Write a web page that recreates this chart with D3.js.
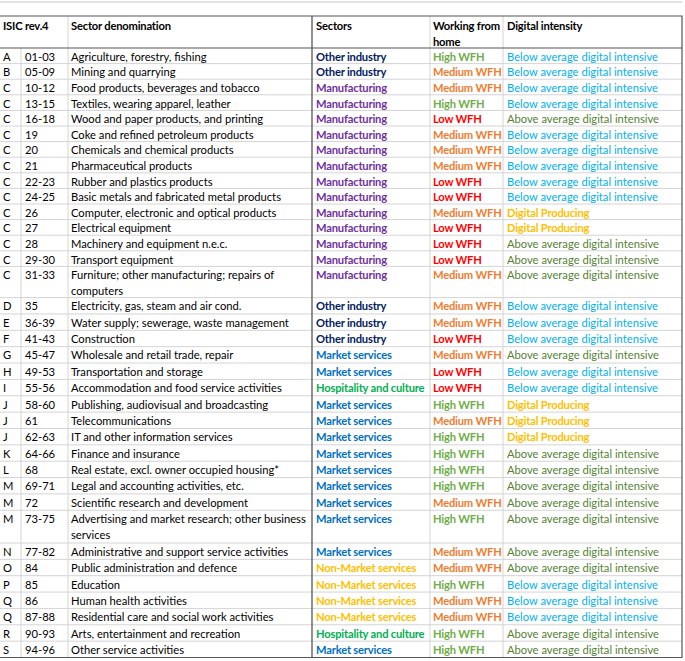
<!DOCTYPE html>
<html>
<head>
<meta charset="utf-8">
<script src="https://cdn.jsdelivr.net/npm/d3@7"></script>
<style>
  html, body { margin: 0; padding: 0; background: #fff; }
  svg { display: block; }
  text { font-family: Lato, "Open Sans", sans-serif; font-size: 11.2px; }
  .b { font-weight: 700; letter-spacing: -0.2px; }
</style>
</head>
<body>
<svg id="tbl" width="685" height="661"></svg>
<script>
// ---- table content ----
const sections = ["A","B","C","C","C","C","C","C","C","C","C","C","C","C","C",
  "D","E","F","G","H","I","J","J","J","K","L","M","M","M","N","O","P","Q","Q","R","S"];
const codes = ["01-03","05-09","10-12","13-15","16-18","19","20","21","22-23","24-25","26","27","28","29-30","31-33",
  "35","36-39","41-43","45-47","49-53","55-56","58-60","61","62-63","64-66","68","69-71","72","73-75","77-82",
  "84","85","86","87-88","90-93","94-96"];
const denominations = [
  "Agriculture, forestry, fishing",
  "Mining and quarrying",
  "Food products, beverages and tobacco",
  "Textiles, wearing apparel, leather",
  "Wood and paper products, and printing",
  "Coke and refined petroleum products",
  "Chemicals and chemical products",
  "Pharmaceutical products",
  "Rubber and plastics products",
  "Basic metals and fabricated metal products",
  "Computer, electronic and optical products",
  "Electrical equipment",
  "Machinery and equipment n.e.c.",
  "Transport equipment",
  "Furniture; other manufacturing; repairs of\ncomputers",
  "Electricity, gas, steam and air cond.",
  "Water supply; sewerage, waste management",
  "Construction",
  "Wholesale and retail trade, repair",
  "Transportation and storage",
  "Accommodation and food service activities",
  "Publishing, audiovisual and broadcasting",
  "Telecommunications",
  "IT and other information services",
  "Finance and insurance",
  "Real estate, excl. owner occupied housing*",
  "Legal and accounting activities, etc.",
  "Scientific research and development",
  "Advertising and market research; other business\nservices",
  "Administrative and support service activities",
  "Public administration and defence",
  "Education",
  "Human health activities",
  "Residential care and social work activities",
  "Arts, entertainment and recreation",
  "Other service activities"
];
const sectors = ["Other industry","Other industry",
  "Manufacturing","Manufacturing","Manufacturing","Manufacturing","Manufacturing","Manufacturing","Manufacturing",
  "Manufacturing","Manufacturing","Manufacturing","Manufacturing","Manufacturing","Manufacturing",
  "Other industry","Other industry","Other industry",
  "Market services","Market services","Hospitality and culture",
  "Market services","Market services","Market services","Market services","Market services",
  "Market services","Market services","Market services","Market services",
  "Non-Market services","Non-Market services","Non-Market services","Non-Market services",
  "Hospitality and culture","Market services"];
const wfh = ["High WFH","Medium WFH","Medium WFH","High WFH","Low WFH","Medium WFH","Medium WFH","Medium WFH",
  "Low WFH","Low WFH","Medium WFH","Low WFH","Low WFH","Low WFH","Medium WFH",
  "Medium WFH","Medium WFH","Low WFH","Medium WFH","Low WFH","Low WFH",
  "High WFH","Medium WFH","High WFH","High WFH","High WFH","High WFH","Medium WFH","High WFH",
  "Medium WFH","Medium WFH","High WFH","Medium WFH","Medium WFH","High WFH","High WFH"];
const BELOW = "Below average digital intensive", ABOVE = "Above average digital intensive", PROD = "Digital Producing";
const digital = [BELOW,BELOW,BELOW,BELOW,ABOVE,BELOW,BELOW,BELOW,BELOW,BELOW,PROD,PROD,ABOVE,ABOVE,ABOVE,
  BELOW,BELOW,BELOW,ABOVE,BELOW,BELOW,PROD,PROD,PROD,ABOVE,ABOVE,ABOVE,ABOVE,ABOVE,
  ABOVE,ABOVE,BELOW,BELOW,BELOW,ABOVE,ABOVE];
const headers = [["ISIC rev.4"],["Sector denomination"],["Sectors"],["Working from","home"],["Digital intensity"]];

// ---- colours ----
const sectorColor = d3.scaleOrdinal()
  .domain(["Other industry","Manufacturing","Market services","Hospitality and culture","Non-Market services"])
  .range(["#002060","#7030a0","#0070c0","#00b050","#ffc000"]);
const wfhColor = d3.scaleOrdinal()
  .domain(["High WFH","Medium WFH","Low WFH"])
  .range(["#70ad47","#ed7d31","#ff0000"]);
const digitalColor = d3.scaleOrdinal()
  .domain([BELOW, ABOVE, PROD])
  .range(["#00b0f0","#548235","#ffc000"]);

// ---- layout ----
const svg = d3.select("#tbl");
const colX = [0, 21, 68, 312, 430, 503, 682];   // column edges
const tableTop = 16, headBottom = 48, tableBottom = 657.5;

// rows measured in line-units; two-line cells take two units
const rows = denominations.map((d, i) => ({
  i, sec: sections[i], code: codes[i], lines: d.split("\n"),
  sector: sectors[i], wfh: wfh[i], dig: digital[i]
}));
let acc = 0;
rows.forEach(r => { r.u0 = acc; acc += r.lines.length; r.u1 = acc; });
// upper block of the sheet has slightly shorter rows than the lower one
const y = d3.scaleLinear().domain([0, 16, acc]).range([headBottom, 297.6, tableBottom]);

const grid = "#d4d4d4", dark = "#555";

// faint line above the table
svg.append("line").attr("x1", 0).attr("x2", colX[6]).attr("y1", 2).attr("y2", 2)
  .attr("stroke", "#e2e2e2").attr("stroke-width", 2);

// horizontal row lines
svg.append("g").selectAll("line").data(rows.slice(1)).join("line")
  .attr("x1", 0).attr("x2", colX[6])
  .attr("y1", d => y(d.u0)).attr("y2", d => y(d.u0))
  .attr("stroke", grid).attr("stroke-width", 1);

// vertical lines (body)
svg.append("g").selectAll("line").data([1, 2, 4, 5]).join("line")
  .attr("x1", d => colX[d]).attr("x2", d => colX[d])
  .attr("y1", d => d === 1 ? headBottom : tableTop).attr("y2", tableBottom)
  .attr("stroke", grid);

// dark borders
svg.append("line").attr("x1", colX[3]).attr("x2", colX[3]).attr("y1", tableTop).attr("y2", tableBottom)
  .attr("stroke", dark).attr("stroke-width", 1.3);
svg.append("path")
  .attr("d", `M0,${tableTop}H${colX[6]}V${tableBottom}H0`)
  .attr("fill", "none").attr("stroke", dark).attr("stroke-width", 1.2);
svg.append("line").attr("x1", 0).attr("x2", colX[6]).attr("y1", headBottom).attr("y2", headBottom)
  .attr("stroke", dark).attr("stroke-width", 1.2);

// header
const headX = [3, 71, 316, 433, 507];
svg.append("g").selectAll("text").data(headers).join("text")
  .attr("class", "b")
  .attr("x", (d, i) => headX[i]).attr("y", tableTop + 13.5)
  .attr("fill", "#000")
  .selectAll("tspan").data(d => d).join("tspan")
  .attr("x", function() { return d3.select(this.parentNode).attr("x"); })
  .attr("dy", (d, i) => i ? 16 : 0)
  .text(d => d);

// body cells
const row = svg.append("g").selectAll("g").data(rows).join("g")
  .attr("transform", d => `translate(0,${y(d.u0) + 12.8})`);

row.append("text").attr("x", 3).attr("fill", "#000").text(d => d.sec);
row.append("text").attr("x", 25).attr("fill", "#000").text(d => d.code);
row.append("text").attr("x", 71).attr("fill", "#000")
  .selectAll("tspan").data(d => d.lines).join("tspan")
  .attr("x", 71).attr("dy", (d, i) => i ? 16 : 0).text(d => d);
row.append("text").attr("x", 316).attr("class", "b")
  .attr("fill", d => sectorColor(d.sector)).text(d => d.sector);
row.append("text").attr("x", 433).attr("class", "b")
  .attr("fill", d => wfhColor(d.wfh)).text(d => d.wfh);
row.append("text").attr("x", 507).attr("class", d => d.dig === PROD ? "b" : null)
  .attr("fill", d => digitalColor(d.dig)).text(d => d.dig);
</script>
</body>
</html>
